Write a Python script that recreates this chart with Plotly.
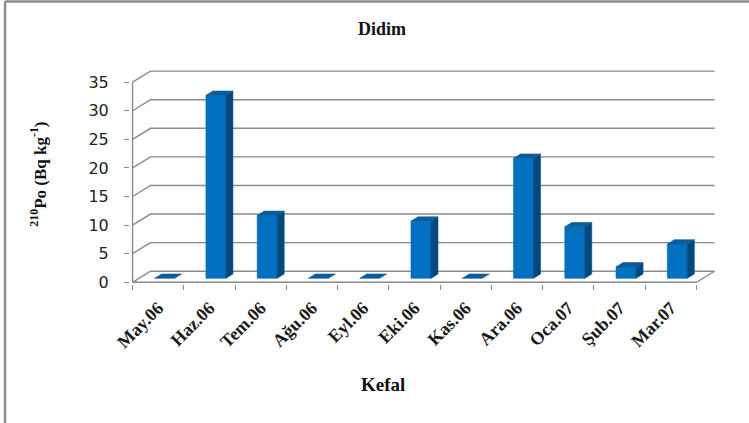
import plotly.graph_objects as go

# Monthly 210Po activity in Kefal (Didim)
months = ["May.06", "Haz.06", "Tem.06", "Ağu.06", "Eyl.06", "Eki.06",
          "Kas.06", "Ara.06", "Oca.07", "Şub.07", "Mar.07"]
po210 = [0, 32, 11, 0, 0, 10, 0, 21, 9, 2, 6]
y_ticks = [0, 5, 10, 15, 20, 25, 30, 35]

W, H = 749, 423

# oblique projection of the chart depth (in axis units)
DX, DY = 0.35, 1.93
D1, D2 = 0.36, 0.75      # bar front / back as fraction of depth
HW = 0.195               # half bar width
YMAX = 35
N = len(months)

# plot-area geometry: front-left corner of the floor at pixel (133, 282)
SX, SY = 51.27, 5.71
x_rng = [-0.55, N - 0.5 + DX + 0.05]
y_rng = [-0.3, YMAX + DY + 0.37]
left = 133 + (x_rng[0] + 0.5) * SX
pw = (x_rng[1] - x_rng[0]) * SX
bottom_px = 282 - y_rng[0] * SY
ph = (y_rng[1] - y_rng[0]) * SY
m_l, m_r = left, W - left - pw
m_b, m_t = H - bottom_px, bottom_px - ph


def px_x(p):
    return (p - m_l) / pw


def px_y(p):
    return (H - m_b - p) / ph


GRID = "#8a8a8a"
fig = go.Figure()


def line_trace(xs, ys, color=GRID, width=1.4):
    fig.add_trace(go.Scatter(x=xs, y=ys, mode="lines", hoverinfo="skip",
                             showlegend=False,
                             line=dict(color=color, width=width)))


# back wall gridlines with the side-wall diagonals
gx, gy = [], []
for v in y_ticks:
    gx += [-0.5, -0.5 + DX, N - 0.5 + DX, None]
    gy += [v, v + DY, v + DY, None]
line_trace(gx, gy)

# floor front edge, right edge and vertical axis line
line_trace([-0.5, N - 0.5, N - 0.5 + DX], [0, 0, DY])
line_trace([-0.5, -0.5], [0, YMAX])

FRONT, SIDE, TOP = "#0070C0", "#00497F", "#0A5C9E"


def poly(xs, ys, color):
    fig.add_trace(go.Scatter(x=xs + [xs[0]], y=ys + [ys[0]], mode="lines",
                             fill="toself", fillcolor=color, hoverinfo="skip",
                             showlegend=False,
                             line=dict(color=color, width=0.6)))


for i, v in enumerate(po210):
    xl1, xr1 = i - HW + D1 * DX, i + HW + D1 * DX
    xl2, xr2 = i - HW + D2 * DX, i + HW + D2 * DX
    yb1, yb2 = D1 * DY, D2 * DY
    if v > 0:
        poly([xl1, xr1, xr1, xl1], [yb1, yb1, yb1 + v, yb1 + v], FRONT)
        poly([xr1, xr2, xr2, xr1], [yb1, yb2, yb2 + v, yb1 + v], SIDE)
    poly([xl1, xr1, xr2, xl2], [yb1 + v, yb1 + v, yb2 + v, yb2 + v], TOP)

serif = "Liberation Serif, Times New Roman, serif"

fig.update_layout(
    width=W, height=H,
    margin=dict(l=m_l, r=m_r, t=m_t, b=m_b, pad=0, autoexpand=False),
    paper_bgcolor="white", plot_bgcolor="white",
    xaxis=dict(range=x_rng, showgrid=False, zeroline=False, showline=False,
               automargin=False,
               tickmode="array", tickvals=list(range(N)),
               ticktext=[f"<b>{m}</b>" for m in months],
               ticks="", tickangle=-45, ticklabelstandoff=9,
               tickfont=dict(family=serif, size=18, color="#1a1a1a"),
               minor=dict(tickmode="array",
                          tickvals=[k - 0.5 for k in range(N + 1)],
                          ticks="outside", ticklen=5, tickwidth=1.3,
                          tickcolor=GRID, showgrid=False)),
    yaxis=dict(range=y_rng, showgrid=False, zeroline=False, showline=False,
               automargin=False,
               tickmode="array", tickvals=y_ticks, ticks="outside",
               ticklen=5, tickwidth=1.3, tickcolor=GRID,
               ticklabelstandoff=12,
               tickfont=dict(family="DejaVu Sans, sans-serif", size=16,
                             color="#222222")),
    annotations=[
        dict(text="<b>Didim</b>", x=px_x(382), y=px_y(29),
             xref="paper", yref="paper", showarrow=False,
             xanchor="center", yanchor="middle",
             font=dict(family=serif, size=18, color="#111111")),
        dict(text="<b>Kefal</b>", x=px_x(383), y=px_y(384),
             xref="paper", yref="paper", showarrow=False,
             xanchor="center", yanchor="middle",
             font=dict(family=serif, size=19, color="#111111")),
        dict(text="<b><sup>210</sup>Po (Bq kg<sup>-1</sup>)</b>",
             x=px_x(39), y=px_y(174), xref="paper", yref="paper",
             showarrow=False, textangle=-90,
             xanchor="center", yanchor="middle",
             font=dict(family=serif, size=17, color="#111111")),
    ],
    shapes=[
        dict(type="line", xref="paper", yref="paper",
             x0=px_x(5.5), y0=px_y(1.5), x1=px_x(W + 2), y1=px_y(1.5),
             line=dict(color="#8c8c8c", width=2.5)),
        dict(type="line", xref="paper", yref="paper",
             x0=px_x(5.5), y0=px_y(1.5), x1=px_x(5.5), y1=px_y(H + 2),
             line=dict(color="#8c8c8c", width=2.5)),
    ],
)

fig.write_html("out.html")
